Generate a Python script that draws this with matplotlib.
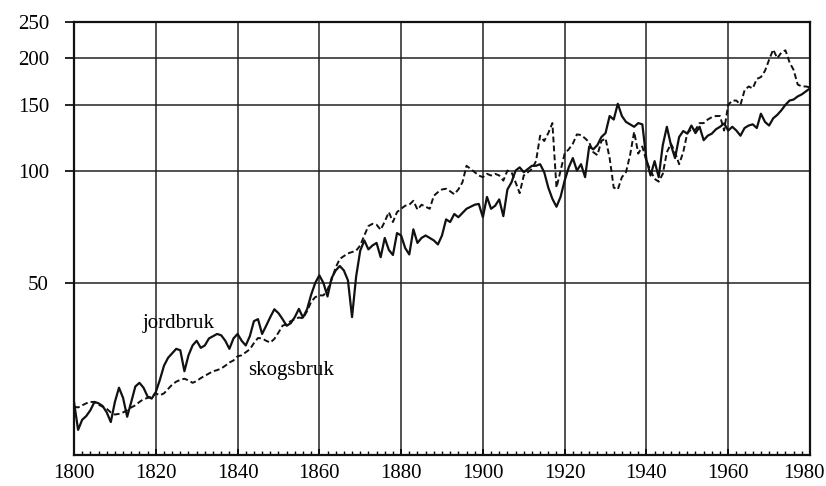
import numpy as np
import matplotlib
matplotlib.use('Agg')
from matplotlib import pyplot as plt
import matplotlib.transforms as mtransforms
from matplotlib.ticker import FixedLocator, MultipleLocator, NullLocator

# Years (categories on the x axis)
years = list(range(1800, 1981))

# Volume index, agriculture (solid line)
jordbruk = [
    24.0, 20.2, 21.5, 22.0, 22.8, 24.0, 23.8, 23.4, 22.5, 21.2,
    24.0, 26.2, 24.6, 21.9, 24.0, 26.4, 27.0, 26.2, 24.8, 24.5,
    25.5, 27.5, 30.0, 31.5, 32.4, 33.3, 33.0, 29.0, 32.0, 34.0,
    35.0, 33.5, 34.0, 35.5, 36.0, 36.5, 36.2, 35.0, 33.3, 35.5,
    36.5, 35.0, 34.0, 36.0, 39.5, 40.0, 36.5, 38.4, 40.5, 42.5,
    41.5, 40.0, 38.4, 39.0, 40.5, 42.6, 40.4, 42.5, 46.5, 50.0,
    52.4, 50.0, 46.0, 51.5, 54.0, 55.5, 54.0, 50.8, 40.5, 52.0,
    61.0, 65.0, 61.5, 63.0, 64.0, 58.6, 66.0, 61.3, 59.4, 68.0,
    67.0, 62.0, 59.6, 69.6, 64.0, 66.0, 67.0, 66.0, 65.0, 63.4,
    67.0, 74.0, 72.8, 76.5, 75.0, 77.0, 79.0, 80.0, 81.0, 81.4,
    75.0, 85.0, 79.0, 80.5, 83.7, 75.5, 89.0, 93.0, 100.0, 102.0,
    99.0, 101.0, 103.0, 103.0, 104.0, 99.0, 90.0, 84.0, 80.0, 85.0,
    94.0, 102.0, 108.0, 100.0, 104.0, 96.0, 116.0, 114.0, 117.0, 123.0,
    126.0, 140.0, 137.0, 151.0, 140.0, 135.0, 133.0, 131.0, 134.0, 133.0,
    107.0, 97.0, 106.0, 96.0, 117.0, 131.0, 117.0, 108.0, 123.0, 127.6,
    125.6, 132.0, 126.0, 131.0, 120.6, 124.0, 125.6, 129.0, 131.0, 133.7,
    128.0, 131.0, 128.0, 124.0, 130.0, 132.0, 133.0, 130.0, 142.0, 135.0,
    132.0, 138.0, 141.0, 145.0, 150.0, 154.0, 155.0, 158.0, 160.0, 163.0,
    166.0,
]

# Volume index, forestry (dashed line)
skogsbruk = [
    23.3, 23.2, 23.5, 23.8, 24.0, 24.0, 23.6, 23.3, 23.0, 22.5,
    22.2, 22.3, 22.5, 22.8, 23.2, 23.5, 24.0, 24.4, 24.6, 24.8,
    25.3, 25.0, 25.3, 26.0, 26.7, 27.2, 27.5, 27.7, 27.4, 27.0,
    27.3, 27.8, 28.2, 28.6, 29.0, 29.2, 29.5, 30.0, 30.6, 31.0,
    31.8, 32.0, 32.6, 33.2, 34.5, 35.6, 35.5, 35.0, 34.6, 35.4,
    36.8, 38.4, 38.8, 39.5, 40.0, 40.4, 40.2, 42.0, 44.5, 45.8,
    46.3, 46.3, 48.0, 51.0, 55.0, 58.0, 59.0, 60.0, 60.5, 61.0,
    63.0, 67.0, 71.0, 72.0, 71.6, 69.4, 73.0, 77.4, 72.8, 77.4,
    79.0, 80.5, 81.0, 83.0, 78.6, 81.0, 80.0, 79.0, 85.6, 87.5,
    89.0, 89.4, 88.0, 86.4, 89.0, 93.0, 103.0, 101.0, 99.0, 97.0,
    96.0, 98.0, 97.0, 98.0, 97.0, 94.0, 100.0, 99.0, 93.0, 87.0,
    97.0, 99.0, 101.0, 106.0, 124.0, 120.0, 126.0, 134.0, 90.0, 100.0,
    111.0, 114.0, 118.0, 125.0, 124.5, 122.0, 119.0, 112.0, 110.0, 120.0,
    122.0, 108.0, 90.0, 89.0, 96.0, 99.0, 110.0, 127.0, 111.0, 116.0,
    106.0, 100.0, 95.0, 93.4, 98.0, 112.0, 118.0, 112.0, 104.0, 112.0,
    126.0, 129.0, 128.6, 134.0, 134.0, 137.0, 139.0, 140.0, 140.0, 128.0,
    150.0, 154.0, 154.0, 150.0, 164.0, 168.0, 166.0, 176.0, 178.0, 185.0,
    198.0, 211.0, 200.0, 207.0, 210.0, 195.0, 186.0, 170.0, 168.0, 168.0,
    167.0,
]

x_ticks = [1800, 1820, 1840, 1860, 1880, 1900, 1920, 1940, 1960, 1980]
y_ticks = [50, 100, 150, 200, 250]

plt.rcParams['font.family'] = ['Liberation Serif', 'DejaVu Serif']

fig = plt.figure(figsize=(8.26, 4.86), dpi=100)
ax = fig.add_axes([0.0896, 0.0638, 0.8910, 0.8909])

ax.set_yscale('log')
ax.set_xlim(1800, 1980)
ax.set_ylim(17.3, 250)

# grid lines
for yv in y_ticks:
    ax.axhline(yv, color='#222222', lw=1.1, zorder=1)
for xv in x_ticks:
    ax.axvline(xv, color='#222222', lw=1.1, zorder=1)

ax.plot(years, jordbruk, color='#111111', lw=1.6, zorder=3)
ax.plot(years, skogsbruk, color='#111111', lw=1.4, linestyle=(0, (3, 1.6)), zorder=3)

ax.text(1825.5, 39.0, 'jordbruk', fontsize=15, ha='center', va='center')
ax.text(1853.0, 29.2, 'skogsbruk', fontsize=15, ha='center', va='center')

ax.yaxis.set_major_locator(FixedLocator(y_ticks))
ax.yaxis.set_minor_locator(NullLocator())
ax.set_yticklabels([str(v) for v in y_ticks])
ax.xaxis.set_major_locator(FixedLocator(x_ticks))
ax.xaxis.set_minor_locator(MultipleLocator(2))

ax.tick_params(axis='y', which='major', direction='out', length=6.5, width=1.2,
               labelsize=15, pad=11.5, left=True, right=False)
ax.tick_params(axis='x', which='major', direction='in', length=4, width=1.2,
               labelsize=15, pad=6.5)
ax.tick_params(axis='x', which='minor', direction='in', length=3, width=1.0)

for side in ['left', 'right', 'top', 'bottom']:
    ax.spines[side].set_linewidth(1.6)
    ax.spines[side].set_color('#111111')

# the last year label sits a little left so it stays inside the picture
last = ax.xaxis.get_major_ticks()[-1].label1
last.set_transform(last.get_transform() +
                   mtransforms.ScaledTranslation(-6 / 100, 0, fig.dpi_scale_trans))

fig.savefig('out.png', dpi=100)
